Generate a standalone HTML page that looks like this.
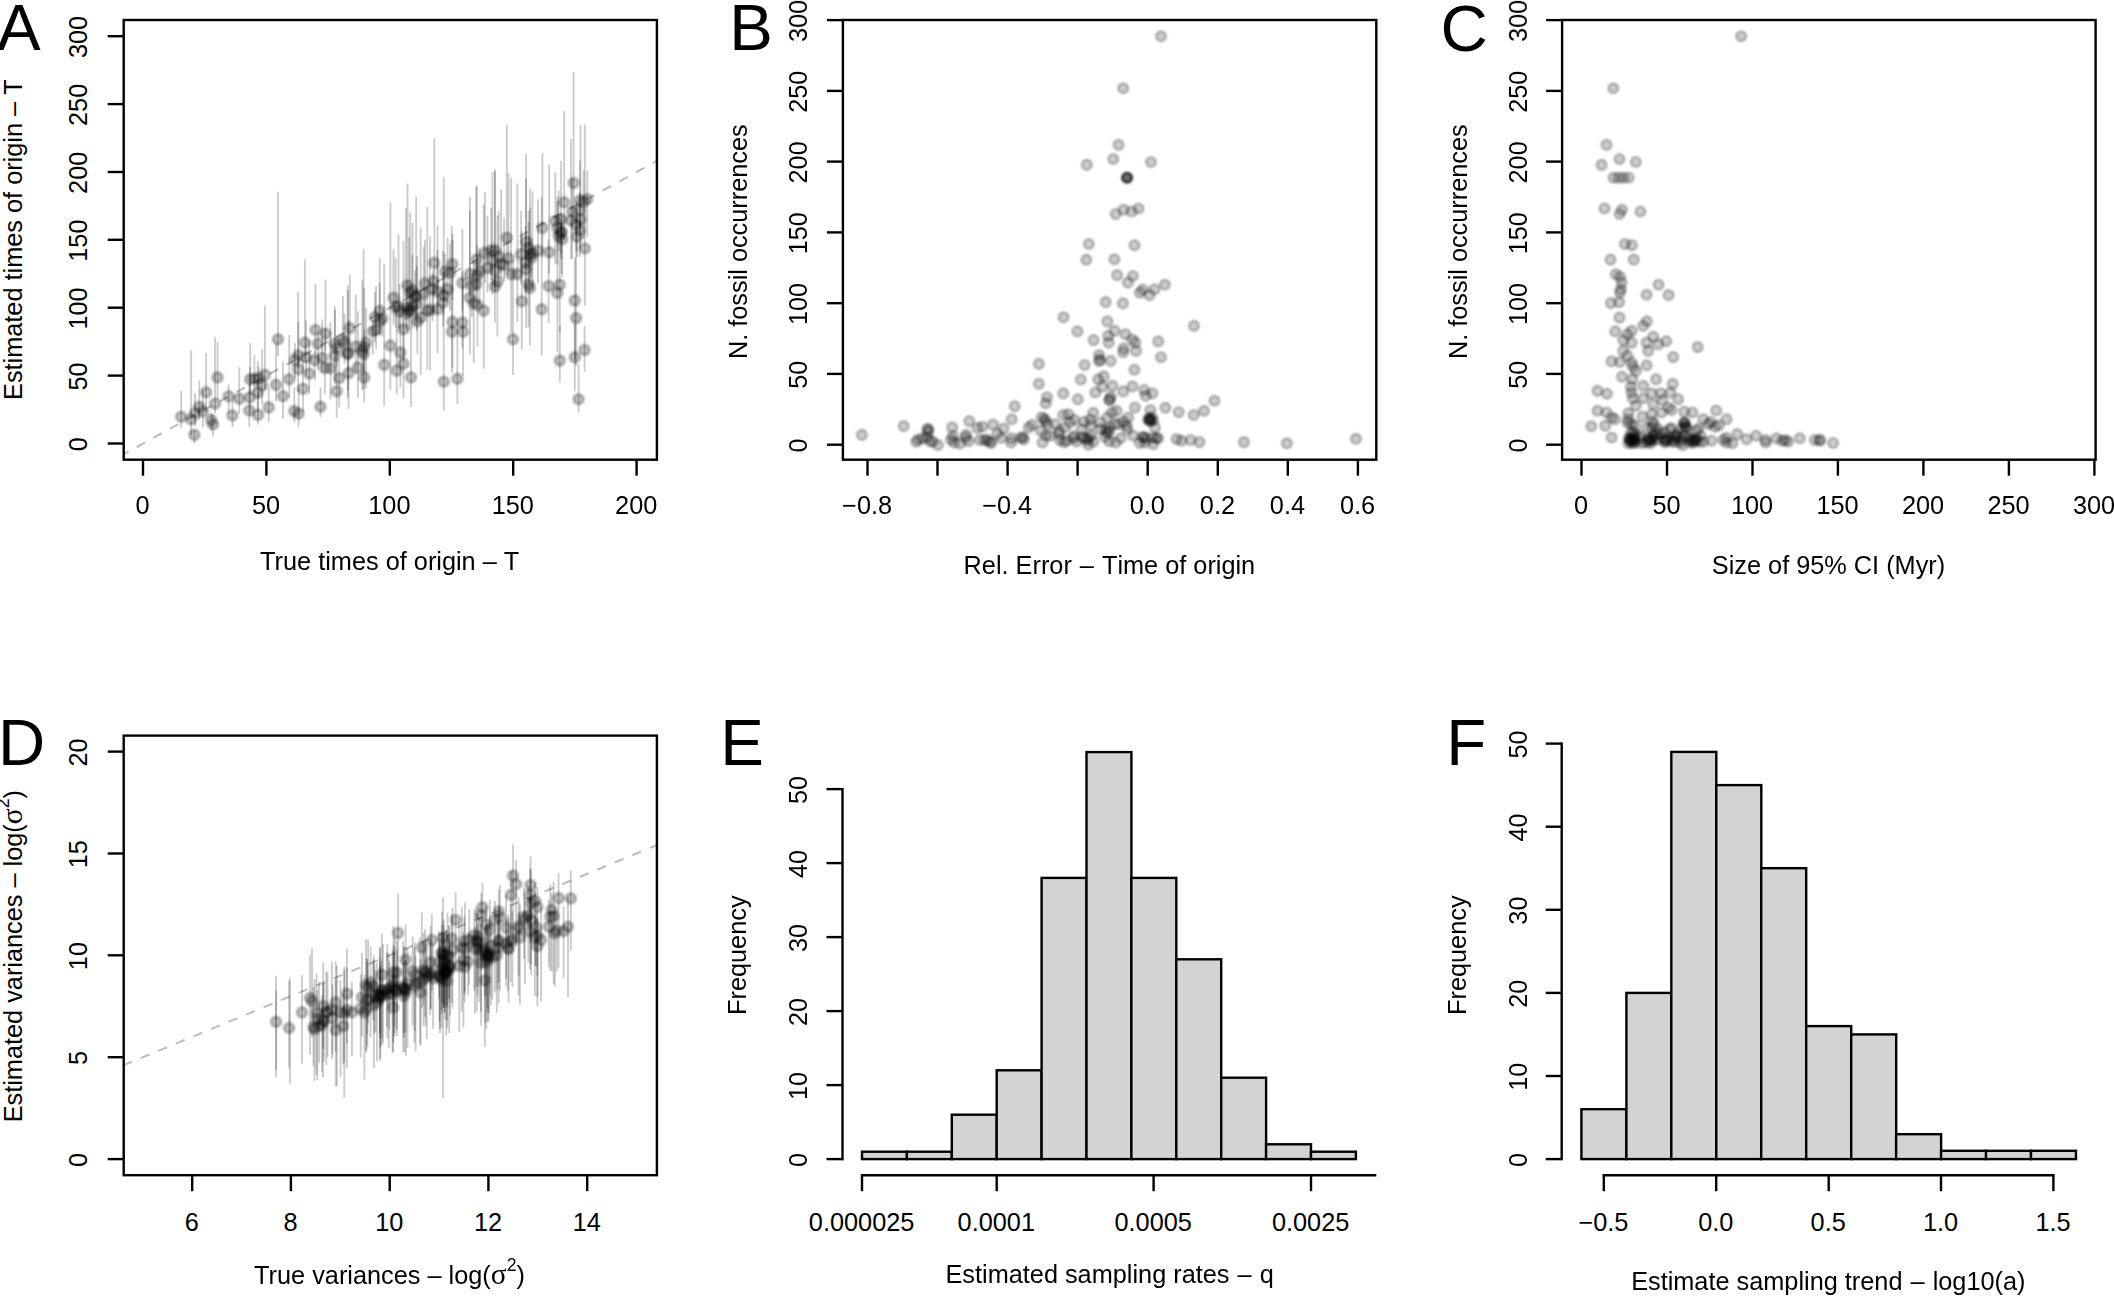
<!DOCTYPE html>
<html lang="en"><head><meta charset="utf-8"><title>Figure</title>
<style>html,body{margin:0;padding:0;background:#fff}body{width:2114px;height:1297px;overflow:hidden}svg{display:block}</style>
</head><body>
<svg width="2114" height="1297" viewBox="0 0 2114 1297" font-family='"Liberation Sans", Arial, Helvetica, sans-serif' font-size="25.3" fill="#000" style="font-kerning:none">
<defs><circle id="p" r="4.85" fill="#000" fill-opacity=".2" stroke="#000" stroke-opacity=".27" stroke-width="2.4"/><circle id="q" r="4.85" fill="#000" fill-opacity=".23" stroke="#000" stroke-opacity=".32" stroke-width="2.4"/><filter id="b" x="-5%" y="-5%" width="110%" height="110%"><feGaussianBlur stdDeviation="0.85"/></filter></defs>
<rect width="2114" height="1297" fill="#fff"/>
<g font-size="65.4">
<text x="-3" y="50">A</text>
<text x="729.2" y="50">B</text>
<text x="1440.6" y="50.6">C</text>
<text x="-2" y="765">D</text>
<text x="720.2" y="765.2">E</text>
<text x="1446.3" y="765.2">F</text>
</g>
<clipPath id="ca"><rect x="123.7" y="20.0" width="533.1999999999999" height="439.7"/></clipPath>
<g clip-path="url(#ca)">
<line x1="123.3" y1="454.4" x2="656.3" y2="161.1" stroke="#bebebe" stroke-width="2.1" stroke-dasharray="9.5 9.5" stroke-dashoffset="3.7"/>
<g stroke="#000" stroke-opacity=".2" stroke-width="1.9">
<line x1="181.2" y1="390.8" x2="181.2" y2="427.8"/>
<line x1="191.2" y1="349.8" x2="191.2" y2="435"/>
<line x1="194.4" y1="430.4" x2="194.4" y2="443.3"/>
<line x1="199.3" y1="380.4" x2="199.3" y2="420"/>
<line x1="195" y1="393.4" x2="195" y2="425.8"/>
<line x1="213.1" y1="414.4" x2="213.1" y2="436.5"/>
<line x1="211.2" y1="412.9" x2="211.2" y2="431"/>
<line x1="215" y1="337.3" x2="215" y2="413.2"/>
<line x1="217.5" y1="341.7" x2="217.5" y2="399.7"/>
<line x1="228.7" y1="384.8" x2="228.7" y2="414.1"/>
<line x1="232.4" y1="400.5" x2="232.4" y2="426.9"/>
<line x1="239.3" y1="367.3" x2="239.3" y2="413.8"/>
<line x1="249.9" y1="366.7" x2="249.9" y2="413.6"/>
<line x1="249.3" y1="383.4" x2="249.3" y2="427.1"/>
<line x1="258" y1="392" x2="258" y2="424.4"/>
<line x1="258.7" y1="366.3" x2="258.7" y2="398.6"/>
<line x1="264.9" y1="305.8" x2="264.9" y2="390"/>
<line x1="268.7" y1="387.5" x2="268.7" y2="422.1"/>
<line x1="276.1" y1="342.6" x2="276.1" y2="401.5"/>
<line x1="278" y1="191.7" x2="278" y2="356.1"/>
<line x1="283" y1="361.5" x2="283" y2="418.4"/>
<line x1="289.3" y1="335.1" x2="289.3" y2="397.7"/>
<line x1="294.9" y1="342.9" x2="294.9" y2="378.2"/>
<line x1="294.3" y1="387.4" x2="294.3" y2="422.2"/>
<line x1="298.6" y1="388.7" x2="298.6" y2="427.2"/>
<line x1="303" y1="359.5" x2="303" y2="412"/>
<line x1="304.9" y1="259.2" x2="304.9" y2="362.4"/>
<line x1="306.1" y1="319.6" x2="306.1" y2="375.9"/>
<line x1="309.2" y1="339.9" x2="309.2" y2="394"/>
<line x1="315.5" y1="284" x2="315.5" y2="354"/>
<line x1="318" y1="331.6" x2="318" y2="370.4"/>
<line x1="320.5" y1="387.4" x2="320.5" y2="417.1"/>
<line x1="325.5" y1="279.7" x2="325.5" y2="351.2"/>
<line x1="324.9" y1="328.1" x2="324.9" y2="393.8"/>
<line x1="330.5" y1="322.2" x2="330.5" y2="399.4"/>
<line x1="334.8" y1="310.3" x2="334.8" y2="362.5"/>
<line x1="336.7" y1="335.2" x2="336.7" y2="366.3"/>
<line x1="336.7" y1="347.1" x2="336.7" y2="418.1"/>
<line x1="339.2" y1="360.6" x2="339.2" y2="407.4"/>
<line x1="348" y1="290.1" x2="348" y2="390.5"/>
<line x1="348.6" y1="320.2" x2="348.6" y2="408.7"/>
<line x1="349.8" y1="274.7" x2="349.8" y2="355.3"/>
<line x1="357.9" y1="311.2" x2="357.9" y2="397.5"/>
<line x1="362.3" y1="279.5" x2="362.3" y2="390.7"/>
<line x1="363.6" y1="249.1" x2="363.6" y2="389"/>
<line x1="364.2" y1="330.1" x2="364.2" y2="402.4"/>
<line x1="366.1" y1="308.1" x2="366.1" y2="388.6"/>
<line x1="372.9" y1="320.2" x2="372.9" y2="354.4"/>
<line x1="376.1" y1="286" x2="376.1" y2="349.3"/>
<line x1="382.3" y1="308.6" x2="382.3" y2="336.4"/>
<line x1="384.2" y1="264.1" x2="384.2" y2="405.8"/>
<line x1="390.4" y1="202.3" x2="390.4" y2="390.3"/>
<line x1="396.7" y1="309.7" x2="396.7" y2="393.7"/>
<line x1="400.4" y1="314.5" x2="400.4" y2="387.3"/>
<line x1="403.5" y1="319.4" x2="403.5" y2="398.2"/>
<line x1="403.5" y1="240.8" x2="403.5" y2="360.5"/>
<line x1="411" y1="325.5" x2="411" y2="406.9"/>
<line x1="407.3" y1="281.2" x2="407.3" y2="331.4"/>
<line x1="410.4" y1="292.7" x2="410.4" y2="326.1"/>
<line x1="412.3" y1="254.7" x2="412.3" y2="328.8"/>
<line x1="406" y1="208.6" x2="406" y2="328.8"/>
<line x1="417.3" y1="256.3" x2="417.3" y2="354.1"/>
<line x1="427.3" y1="206.8" x2="427.3" y2="369.5"/>
<line x1="443.7" y1="176.7" x2="443.7" y2="410.9"/>
<line x1="457.4" y1="323.8" x2="457.4" y2="404.2"/>
<line x1="451.8" y1="225.4" x2="451.8" y2="372.8"/>
<line x1="463.1" y1="279.4" x2="463.1" y2="375.8"/>
<line x1="452.5" y1="240.1" x2="452.5" y2="368.4"/>
<line x1="462.4" y1="270.8" x2="462.4" y2="348.6"/>
<line x1="483.7" y1="204.2" x2="483.7" y2="368.8"/>
<line x1="473.7" y1="260.9" x2="473.7" y2="362.9"/>
<line x1="477.4" y1="255.3" x2="477.4" y2="346.7"/>
<line x1="513" y1="260.2" x2="513" y2="375"/>
<line x1="521.8" y1="231" x2="521.8" y2="349.7"/>
<line x1="541.7" y1="196.5" x2="541.7" y2="355.4"/>
<line x1="559.8" y1="325.9" x2="559.8" y2="382.6"/>
<line x1="576.1" y1="219.4" x2="576.1" y2="366.2"/>
<line x1="574.8" y1="257.3" x2="574.8" y2="359.7"/>
<line x1="574.8" y1="324.4" x2="574.8" y2="391.3"/>
<line x1="584.6" y1="325.9" x2="584.6" y2="371.6"/>
<line x1="578.6" y1="363.9" x2="578.6" y2="412.6"/>
<line x1="443.1" y1="251" x2="443.1" y2="326.8"/>
<line x1="430" y1="236.6" x2="430" y2="370.4"/>
<line x1="437.5" y1="225.2" x2="437.5" y2="353.3"/>
<line x1="573.6" y1="71.9" x2="573.6" y2="221.1"/>
<line x1="564.2" y1="110.7" x2="564.2" y2="240.2"/>
<line x1="579.8" y1="160.4" x2="579.8" y2="225"/>
<line x1="583.6" y1="170.2" x2="583.6" y2="238.7"/>
<line x1="587.3" y1="170.4" x2="587.3" y2="237"/>
<line x1="572.3" y1="178.3" x2="572.3" y2="258.6"/>
<line x1="579.8" y1="192.4" x2="579.8" y2="231.5"/>
<line x1="561.1" y1="161" x2="561.1" y2="259.1"/>
<line x1="571.1" y1="139.3" x2="571.1" y2="259.5"/>
<line x1="580.5" y1="125.1" x2="580.5" y2="248.3"/>
<line x1="542.4" y1="153.1" x2="542.4" y2="257.5"/>
<line x1="557.4" y1="196.4" x2="557.4" y2="264.6"/>
<line x1="561.1" y1="222.7" x2="561.1" y2="254"/>
<line x1="562.3" y1="214.2" x2="562.3" y2="277.3"/>
<line x1="579.8" y1="220.7" x2="579.8" y2="257.1"/>
<line x1="577.3" y1="213" x2="577.3" y2="256.8"/>
<line x1="584.8" y1="124.2" x2="584.8" y2="306"/>
<line x1="549.2" y1="164.2" x2="549.2" y2="274.1"/>
<line x1="506.8" y1="124.8" x2="506.8" y2="261.9"/>
<line x1="526.1" y1="178.7" x2="526.1" y2="268.8"/>
<line x1="528.6" y1="210.7" x2="528.6" y2="282"/>
<line x1="532.4" y1="191.2" x2="532.4" y2="290.3"/>
<line x1="521.1" y1="210.7" x2="521.1" y2="283.8"/>
<line x1="525.5" y1="226.2" x2="525.5" y2="292.9"/>
<line x1="526.1" y1="153.7" x2="526.1" y2="328.1"/>
<line x1="484.9" y1="192.2" x2="484.9" y2="282.7"/>
<line x1="494.9" y1="169" x2="494.9" y2="287.6"/>
<line x1="498.7" y1="211" x2="498.7" y2="283.3"/>
<line x1="492.4" y1="172.3" x2="492.4" y2="294.7"/>
<line x1="501.2" y1="189.5" x2="501.2" y2="277.9"/>
<line x1="487.4" y1="215.4" x2="487.4" y2="292.2"/>
<line x1="494.9" y1="261.4" x2="494.9" y2="292.1"/>
<line x1="497.4" y1="215.5" x2="497.4" y2="336.4"/>
<line x1="494.9" y1="171.2" x2="494.9" y2="322.6"/>
<line x1="511.1" y1="177.7" x2="511.1" y2="333.1"/>
<line x1="517.4" y1="183.6" x2="517.4" y2="321.8"/>
<line x1="528.6" y1="221.8" x2="528.6" y2="327.3"/>
<line x1="529.9" y1="188.3" x2="529.9" y2="345.7"/>
<line x1="548.6" y1="239.4" x2="548.6" y2="323"/>
<line x1="559.8" y1="240.6" x2="559.8" y2="332.4"/>
<line x1="557.4" y1="201" x2="557.4" y2="352.6"/>
<line x1="434.3" y1="138" x2="434.3" y2="294"/>
<line x1="452.5" y1="233.7" x2="452.5" y2="300.1"/>
<line x1="445" y1="253.4" x2="445" y2="301.6"/>
<line x1="450" y1="243.2" x2="450" y2="310.7"/>
<line x1="469.9" y1="210.4" x2="469.9" y2="297"/>
<line x1="477.4" y1="245.4" x2="477.4" y2="291.4"/>
<line x1="462.4" y1="228.8" x2="462.4" y2="310.8"/>
<line x1="476.2" y1="185.6" x2="476.2" y2="298"/>
<line x1="425" y1="239.8" x2="425" y2="306.8"/>
<line x1="407.5" y1="183.6" x2="407.5" y2="310.8"/>
<line x1="412.5" y1="222.9" x2="412.5" y2="312.5"/>
<line x1="415" y1="270.3" x2="415" y2="325.6"/>
<line x1="432.5" y1="273.6" x2="432.5" y2="321.1"/>
<line x1="437.5" y1="249.9" x2="437.5" y2="313.2"/>
<line x1="443.7" y1="271.9" x2="443.7" y2="315.2"/>
<line x1="447.5" y1="237.6" x2="447.5" y2="302.6"/>
<line x1="469.9" y1="196.8" x2="469.9" y2="354.6"/>
<line x1="393.5" y1="249.5" x2="393.5" y2="324.6"/>
<line x1="504.1" y1="217.8" x2="504.1" y2="281.1"/>
<line x1="416.7" y1="266.2" x2="416.7" y2="331"/>
<line x1="479.5" y1="248.4" x2="479.5" y2="305.3"/>
<line x1="314.8" y1="350.7" x2="314.8" y2="380.4"/>
<line x1="410.2" y1="212.2" x2="410.2" y2="307.4"/>
<line x1="409.1" y1="237.3" x2="409.1" y2="329.8"/>
<line x1="298.1" y1="291.9" x2="298.1" y2="391.4"/>
<line x1="399.4" y1="283.9" x2="399.4" y2="328.4"/>
<line x1="322.2" y1="319.5" x2="322.2" y2="373.2"/>
<line x1="355.7" y1="294.4" x2="355.7" y2="374.8"/>
<line x1="433.4" y1="269.7" x2="433.4" y2="312.2"/>
<line x1="344.5" y1="313.5" x2="344.5" y2="364"/>
<line x1="298.3" y1="321.8" x2="298.3" y2="368.7"/>
<line x1="398.5" y1="234.2" x2="398.5" y2="327.4"/>
<line x1="558.7" y1="190.6" x2="558.7" y2="251.5"/>
<line x1="476.8" y1="186.8" x2="476.8" y2="283"/>
<line x1="491.2" y1="207.4" x2="491.2" y2="279.8"/>
<line x1="262.1" y1="349.3" x2="262.1" y2="404"/>
<line x1="347.7" y1="285.3" x2="347.7" y2="398"/>
<line x1="250.2" y1="343.3" x2="250.2" y2="394.2"/>
<line x1="416.2" y1="196.7" x2="416.2" y2="316.3"/>
<line x1="206.1" y1="353.2" x2="206.1" y2="412.6"/>
<line x1="538" y1="199.6" x2="538" y2="283.3"/>
<line x1="202.8" y1="390" x2="202.8" y2="427.5"/>
<line x1="379.7" y1="257.7" x2="379.7" y2="334.6"/>
<line x1="423.7" y1="246.7" x2="423.7" y2="315.1"/>
<line x1="420.7" y1="227.2" x2="420.7" y2="375"/>
<line x1="561.5" y1="221.7" x2="561.5" y2="273.9"/>
<line x1="257.7" y1="360.9" x2="257.7" y2="411.8"/>
<line x1="471.9" y1="273.3" x2="471.9" y2="316.8"/>
<line x1="531.6" y1="237.7" x2="531.6" y2="277.8"/>
<line x1="555.3" y1="172.3" x2="555.3" y2="263.9"/>
<line x1="576.3" y1="201.6" x2="576.3" y2="251.5"/>
<line x1="334.9" y1="306.4" x2="334.9" y2="383.6"/>
<line x1="379.7" y1="283.1" x2="379.7" y2="334.8"/>
<line x1="508.5" y1="173.1" x2="508.5" y2="275.9"/>
<line x1="375" y1="292.1" x2="375" y2="342.2"/>
<line x1="254.4" y1="355.3" x2="254.4" y2="391.4"/>
<line x1="530.3" y1="207.4" x2="530.3" y2="277.9"/>
<line x1="342.9" y1="296.1" x2="342.9" y2="356.6"/>
<line x1="395.6" y1="257.6" x2="395.6" y2="328.1"/>
<line x1="364.2" y1="287.7" x2="364.2" y2="372.1"/>
</g>
<g filter="url(#b)">
<use href="#q" x="181.2" y="416.8"/>
<use href="#q" x="191.2" y="419.3"/>
<use href="#q" x="194.4" y="434.9"/>
<use href="#q" x="199.3" y="406.8"/>
<use href="#q" x="195" y="413"/>
<use href="#q" x="213.1" y="424.3"/>
<use href="#q" x="211.2" y="420.1"/>
<use href="#q" x="215" y="403.7"/>
<use href="#q" x="217.5" y="377.4"/>
<use href="#q" x="228.7" y="396.2"/>
<use href="#q" x="232.4" y="415.5"/>
<use href="#q" x="239.3" y="398.7"/>
<use href="#q" x="249.9" y="397.4"/>
<use href="#q" x="249.3" y="410.5"/>
<use href="#q" x="258" y="414.9"/>
<use href="#q" x="258.7" y="378.1"/>
<use href="#q" x="264.9" y="374.9"/>
<use href="#q" x="268.7" y="407.4"/>
<use href="#q" x="276.1" y="384.9"/>
<use href="#q" x="278" y="339.3"/>
<use href="#q" x="283" y="396.2"/>
<use href="#q" x="289.3" y="379.3"/>
<use href="#q" x="294.9" y="359.9"/>
<use href="#q" x="294.3" y="411.1"/>
<use href="#q" x="298.6" y="413.6"/>
<use href="#q" x="303" y="388.7"/>
<use href="#q" x="304.9" y="342.5"/>
<use href="#q" x="306.1" y="357.4"/>
<use href="#q" x="309.2" y="373.7"/>
<use href="#q" x="315.5" y="330"/>
<use href="#q" x="318" y="343.7"/>
<use href="#q" x="320.5" y="406.8"/>
<use href="#q" x="325.5" y="333.7"/>
<use href="#q" x="324.9" y="368.1"/>
<use href="#q" x="330.5" y="368.1"/>
<use href="#q" x="334.8" y="343.7"/>
<use href="#q" x="336.7" y="348.1"/>
<use href="#q" x="336.7" y="391.2"/>
<use href="#q" x="339.2" y="378.1"/>
<use href="#q" x="348" y="353.7"/>
<use href="#q" x="348.6" y="373.1"/>
<use href="#q" x="349.8" y="328.1"/>
<use href="#q" x="357.9" y="367.4"/>
<use href="#q" x="362.3" y="351.2"/>
<use href="#q" x="363.6" y="354.3"/>
<use href="#q" x="364.2" y="377.4"/>
<use href="#q" x="366.1" y="342.5"/>
<use href="#q" x="372.9" y="331.2"/>
<use href="#q" x="376.1" y="330"/>
<use href="#q" x="382.3" y="318.7"/>
<use href="#q" x="384.2" y="364.9"/>
<use href="#q" x="390.4" y="345.6"/>
<use href="#q" x="396.7" y="370.6"/>
<use href="#q" x="400.4" y="352.5"/>
<use href="#q" x="403.5" y="363.7"/>
<use href="#q" x="403.5" y="329.3"/>
<use href="#q" x="411" y="377.4"/>
<use href="#q" x="407.3" y="307.5"/>
<use href="#q" x="410.4" y="310.6"/>
<use href="#q" x="412.3" y="306.2"/>
<use href="#q" x="406" y="313.7"/>
<use href="#q" x="417.3" y="321.2"/>
<use href="#q" x="427.3" y="310.6"/>
<use href="#q" x="443.7" y="381.8"/>
<use href="#q" x="457.4" y="378.7"/>
<use href="#q" x="451.8" y="331.8"/>
<use href="#q" x="463.1" y="331.8"/>
<use href="#q" x="452.5" y="321.9"/>
<use href="#q" x="462.4" y="322.5"/>
<use href="#q" x="483.7" y="310.6"/>
<use href="#q" x="473.7" y="303.1"/>
<use href="#q" x="477.4" y="305"/>
<use href="#q" x="513" y="339.3"/>
<use href="#q" x="521.8" y="301.2"/>
<use href="#q" x="541.7" y="309.4"/>
<use href="#q" x="559.8" y="360.6"/>
<use href="#q" x="576.1" y="318.1"/>
<use href="#q" x="574.8" y="300.6"/>
<use href="#q" x="574.8" y="357.4"/>
<use href="#q" x="584.6" y="350"/>
<use href="#q" x="578.6" y="399.3"/>
<use href="#q" x="443.1" y="302.5"/>
<use href="#q" x="430" y="310"/>
<use href="#q" x="437.5" y="309.4"/>
<use href="#q" x="573.6" y="183"/>
<use href="#q" x="564.2" y="202.3"/>
<use href="#q" x="579.8" y="200.4"/>
<use href="#q" x="583.6" y="201.7"/>
<use href="#q" x="587.3" y="199.2"/>
<use href="#q" x="572.3" y="211.7"/>
<use href="#q" x="579.8" y="210.4"/>
<use href="#q" x="561.1" y="219.2"/>
<use href="#q" x="571.1" y="220.4"/>
<use href="#q" x="580.5" y="219.2"/>
<use href="#q" x="542.4" y="227.9"/>
<use href="#q" x="557.4" y="227.9"/>
<use href="#q" x="561.1" y="232.9"/>
<use href="#q" x="562.3" y="239.2"/>
<use href="#q" x="579.8" y="230.4"/>
<use href="#q" x="577.3" y="236.7"/>
<use href="#q" x="584.8" y="248.5"/>
<use href="#q" x="549.2" y="252.3"/>
<use href="#q" x="506.8" y="237.9"/>
<use href="#q" x="526.1" y="241.7"/>
<use href="#q" x="528.6" y="247.9"/>
<use href="#q" x="532.4" y="252.9"/>
<use href="#q" x="521.1" y="254.1"/>
<use href="#q" x="525.5" y="262.9"/>
<use href="#q" x="526.1" y="269.1"/>
<use href="#q" x="484.9" y="252.9"/>
<use href="#q" x="494.9" y="250.4"/>
<use href="#q" x="498.7" y="256.6"/>
<use href="#q" x="492.4" y="260.4"/>
<use href="#q" x="501.2" y="264.1"/>
<use href="#q" x="487.4" y="267.9"/>
<use href="#q" x="494.9" y="270.4"/>
<use href="#q" x="497.4" y="281.6"/>
<use href="#q" x="494.9" y="286.6"/>
<use href="#q" x="511.1" y="274.1"/>
<use href="#q" x="517.4" y="274.1"/>
<use href="#q" x="528.6" y="284.1"/>
<use href="#q" x="529.9" y="287.9"/>
<use href="#q" x="548.6" y="286"/>
<use href="#q" x="559.8" y="284.7"/>
<use href="#q" x="557.4" y="292.9"/>
<use href="#q" x="434.3" y="262.9"/>
<use href="#q" x="452.5" y="264.1"/>
<use href="#q" x="445" y="271.6"/>
<use href="#q" x="450" y="272.9"/>
<use href="#q" x="469.9" y="274.1"/>
<use href="#q" x="477.4" y="275.4"/>
<use href="#q" x="462.4" y="282.9"/>
<use href="#q" x="476.2" y="284.1"/>
<use href="#q" x="425" y="283.5"/>
<use href="#q" x="407.5" y="285.4"/>
<use href="#q" x="412.5" y="290.4"/>
<use href="#q" x="415" y="295.4"/>
<use href="#q" x="432.5" y="289.1"/>
<use href="#q" x="437.5" y="291.6"/>
<use href="#q" x="443.7" y="295.4"/>
<use href="#q" x="447.5" y="289.1"/>
<use href="#q" x="469.9" y="297.8"/>
<use href="#q" x="393.5" y="297.8"/>
<use href="#q" x="504.1" y="265.3"/>
<use href="#q" x="416.7" y="303.7"/>
<use href="#q" x="479.5" y="271.1"/>
<use href="#q" x="314.8" y="360.2"/>
<use href="#q" x="410.2" y="292.9"/>
<use href="#q" x="409.1" y="311.1"/>
<use href="#q" x="298.1" y="369.3"/>
<use href="#q" x="399.4" y="311.2"/>
<use href="#q" x="322.2" y="357.8"/>
<use href="#q" x="355.7" y="346.6"/>
<use href="#q" x="433.4" y="281.3"/>
<use href="#q" x="344.5" y="342.6"/>
<use href="#q" x="298.3" y="355.3"/>
<use href="#q" x="398.5" y="306.4"/>
<use href="#q" x="558.7" y="236.1"/>
<use href="#q" x="476.8" y="259.3"/>
<use href="#q" x="491.2" y="250.3"/>
<use href="#q" x="262.1" y="385.4"/>
<use href="#q" x="347.7" y="353.6"/>
<use href="#q" x="250.2" y="379.2"/>
<use href="#q" x="416.2" y="297"/>
<use href="#q" x="206.1" y="392.3"/>
<use href="#q" x="538" y="250.7"/>
<use href="#q" x="202.8" y="411.5"/>
<use href="#q" x="379.7" y="310.7"/>
<use href="#q" x="423.7" y="293.9"/>
<use href="#q" x="420.7" y="317.5"/>
<use href="#q" x="561.5" y="231.6"/>
<use href="#q" x="257.7" y="392.7"/>
<use href="#q" x="471.9" y="286.1"/>
<use href="#q" x="531.6" y="257.9"/>
<use href="#q" x="555.3" y="220.9"/>
<use href="#q" x="576.3" y="224.4"/>
<use href="#q" x="334.9" y="356"/>
<use href="#q" x="379.7" y="321.2"/>
<use href="#q" x="508.5" y="258.2"/>
<use href="#q" x="375" y="317.3"/>
<use href="#q" x="254.4" y="378.8"/>
<use href="#q" x="530.3" y="254.5"/>
<use href="#q" x="342.9" y="339.6"/>
<use href="#q" x="395.6" y="306.8"/>
<use href="#q" x="364.2" y="347.1"/>
</g></g>
<g filter="url(#b)">
<use href="#p" x="1161" y="36.3"/>
<use href="#p" x="1123.2" y="88.3"/>
<use href="#p" x="1118.6" y="144.9"/>
<use href="#p" x="1113.2" y="159"/>
<use href="#p" x="1151" y="162"/>
<use href="#p" x="1086.9" y="164.9"/>
<use href="#p" x="1127.1" y="177.7"/>
<use href="#p" x="1127.2" y="177.6"/>
<use href="#p" x="1127.2" y="177.7"/>
<use href="#p" x="1126.9" y="177.7"/>
<use href="#p" x="1115.7" y="214"/>
<use href="#p" x="1123.6" y="209.8"/>
<use href="#p" x="1131.6" y="211.5"/>
<use href="#p" x="1138.5" y="208.5"/>
<use href="#p" x="1088.8" y="244"/>
<use href="#p" x="1134.5" y="245.2"/>
<use href="#p" x="1086.3" y="259.8"/>
<use href="#p" x="1114.4" y="259.3"/>
<use href="#p" x="1117.1" y="275.1"/>
<use href="#p" x="1132.9" y="276"/>
<use href="#p" x="1127.9" y="282.6"/>
<use href="#p" x="1164.9" y="284.8"/>
<use href="#p" x="1154.5" y="289.3"/>
<use href="#p" x="1139.9" y="292.6"/>
<use href="#p" x="1142.9" y="289.5"/>
<use href="#p" x="1149.5" y="295.1"/>
<use href="#p" x="1105.7" y="302.1"/>
<use href="#p" x="1122.9" y="303.4"/>
<use href="#p" x="1063.6" y="317.3"/>
<use href="#p" x="1107.4" y="321.4"/>
<use href="#p" x="1077.4" y="331.4"/>
<use href="#p" x="1114.6" y="330.9"/>
<use href="#p" x="1125.4" y="334.2"/>
<use href="#p" x="1194" y="325.9"/>
<use href="#p" x="1093.6" y="340.1"/>
<use href="#p" x="1108.2" y="335.9"/>
<use href="#p" x="1108.7" y="342.6"/>
<use href="#p" x="1135.4" y="342.6"/>
<use href="#p" x="1132.3" y="339.5"/>
<use href="#p" x="1136" y="350.9"/>
<use href="#p" x="1158.2" y="341.4"/>
<use href="#p" x="1123.7" y="348.4"/>
<use href="#p" x="1123.2" y="352.1"/>
<use href="#p" x="1161" y="357.2"/>
<use href="#p" x="1099.1" y="355.1"/>
<use href="#p" x="1099.1" y="360.9"/>
<use href="#p" x="1100.1" y="359.9"/>
<use href="#p" x="1110.7" y="360.9"/>
<use href="#p" x="1084.6" y="365"/>
<use href="#p" x="1038.8" y="363.9"/>
<use href="#p" x="1134.4" y="369.7"/>
<use href="#p" x="1080.8" y="379.5"/>
<use href="#p" x="1103.7" y="376.4"/>
<use href="#p" x="1098.2" y="379.2"/>
<use href="#p" x="1102.4" y="386.7"/>
<use href="#p" x="1038.8" y="383.9"/>
<use href="#p" x="1112.4" y="385.9"/>
<use href="#p" x="1132.4" y="386.4"/>
<use href="#p" x="1123.2" y="391.4"/>
<use href="#p" x="1144" y="390"/>
<use href="#p" x="1152.4" y="393.4"/>
<use href="#p" x="1145.7" y="395.8"/>
<use href="#p" x="1095.4" y="392.5"/>
<use href="#p" x="1063.3" y="393.4"/>
<use href="#p" x="1110.7" y="396.7"/>
<use href="#p" x="1109.1" y="399.9"/>
<use href="#p" x="1109.9" y="400"/>
<use href="#p" x="1047" y="397.2"/>
<use href="#p" x="1045.8" y="403.3"/>
<use href="#p" x="1077.9" y="399.2"/>
<use href="#p" x="1214.5" y="400.8"/>
<use href="#p" x="1014.7" y="406.2"/>
<use href="#p" x="1165.4" y="407.8"/>
<use href="#p" x="1178.7" y="412.2"/>
<use href="#p" x="1204" y="410.8"/>
<use href="#p" x="1193.7" y="415"/>
<use href="#p" x="1134.9" y="407.5"/>
<use href="#p" x="1150.4" y="410"/>
<use href="#p" x="1116.6" y="410.8"/>
<use href="#p" x="1112" y="412.6"/>
<use href="#p" x="1093.3" y="412.8"/>
<use href="#p" x="1063.3" y="415"/>
<use href="#p" x="1068.3" y="414.2"/>
<use href="#p" x="1149.5" y="419.2"/>
<use href="#p" x="1150.5" y="420.9"/>
<use href="#p" x="1148.5" y="420.1"/>
<use href="#p" x="1150" y="420.4"/>
<use href="#p" x="1151.8" y="417.3"/>
<use href="#p" x="1153.2" y="420.5"/>
<use href="#p" x="1011.7" y="419.2"/>
<use href="#p" x="1028.8" y="427.5"/>
<use href="#p" x="1032.1" y="424.7"/>
<use href="#p" x="1020.8" y="437.5"/>
<use href="#p" x="1023" y="437.2"/>
<use href="#p" x="1023.6" y="439.5"/>
<use href="#p" x="1011.7" y="438.3"/>
<use href="#p" x="1042.5" y="442.5"/>
<use href="#p" x="1040.8" y="430.8"/>
<use href="#p" x="1050" y="435.8"/>
<use href="#p" x="1047.5" y="424.2"/>
<use href="#p" x="1055" y="424.2"/>
<use href="#p" x="1060" y="440"/>
<use href="#p" x="1064.1" y="442.2"/>
<use href="#p" x="1064.9" y="427.5"/>
<use href="#p" x="1069.9" y="422.5"/>
<use href="#p" x="1066.6" y="440.8"/>
<use href="#p" x="1076.6" y="441.6"/>
<use href="#p" x="1081.6" y="429.2"/>
<use href="#p" x="1084.1" y="421.7"/>
<use href="#p" x="1088.3" y="438.3"/>
<use href="#p" x="1084.6" y="438.3"/>
<use href="#p" x="1093.3" y="441.6"/>
<use href="#p" x="1088.3" y="444.7"/>
<use href="#p" x="1099.9" y="422.5"/>
<use href="#p" x="1107.4" y="417.5"/>
<use href="#p" x="1109.1" y="431.6"/>
<use href="#p" x="1107.1" y="433"/>
<use href="#p" x="1105.6" y="429.8"/>
<use href="#p" x="1114.9" y="424.2"/>
<use href="#p" x="1118.5" y="423.9"/>
<use href="#p" x="1115.7" y="442.5"/>
<use href="#p" x="1120.7" y="438.3"/>
<use href="#p" x="1126.6" y="425.8"/>
<use href="#p" x="1128.2" y="417.5"/>
<use href="#p" x="1133.2" y="435.8"/>
<use href="#p" x="1143.2" y="437.5"/>
<use href="#p" x="1146" y="438.1"/>
<use href="#p" x="1143.3" y="436.7"/>
<use href="#p" x="1144.9" y="442.5"/>
<use href="#p" x="1156.5" y="438.3"/>
<use href="#p" x="1153.1" y="437.7"/>
<use href="#p" x="1158" y="438.2"/>
<use href="#p" x="1153.2" y="444.1"/>
<use href="#p" x="1154.9" y="427.5"/>
<use href="#p" x="1176.5" y="439.1"/>
<use href="#p" x="1181.5" y="440.8"/>
<use href="#p" x="1190.7" y="440"/>
<use href="#p" x="1199.5" y="442.1"/>
<use href="#p" x="1243.9" y="442.1"/>
<use href="#p" x="1286.9" y="443.3"/>
<use href="#p" x="1356" y="438.8"/>
<use href="#p" x="861.9" y="434.9"/>
<use href="#p" x="903.7" y="426.1"/>
<use href="#p" x="928.1" y="431.7"/>
<use href="#p" x="928.5" y="429.4"/>
<use href="#p" x="927.3" y="429"/>
<use href="#p" x="922.4" y="438.6"/>
<use href="#p" x="918.2" y="439.5"/>
<use href="#p" x="916.2" y="441.7"/>
<use href="#p" x="933" y="441.7"/>
<use href="#p" x="930.1" y="441.2"/>
<use href="#p" x="937.9" y="445"/>
<use href="#p" x="927.4" y="437.4"/>
<use href="#p" x="952.2" y="427.4"/>
<use href="#p" x="953" y="436.1"/>
<use href="#p" x="954.3" y="442.4"/>
<use href="#p" x="951" y="439.8"/>
<use href="#p" x="959.9" y="443.6"/>
<use href="#p" x="969.3" y="421.1"/>
<use href="#p" x="966.1" y="434.9"/>
<use href="#p" x="965.7" y="437.6"/>
<use href="#p" x="968.6" y="441.1"/>
<use href="#p" x="977.4" y="428"/>
<use href="#p" x="982.4" y="426.7"/>
<use href="#p" x="979.9" y="439.9"/>
<use href="#p" x="993" y="424.6"/>
<use href="#p" x="987.4" y="439.9"/>
<use href="#p" x="984.7" y="440.1"/>
<use href="#p" x="990.1" y="441.7"/>
<use href="#p" x="991.1" y="443"/>
<use href="#p" x="1003.6" y="428.6"/>
<use href="#p" x="1001.1" y="438"/>
<use href="#p" x="997.4" y="433.6"/>
<use href="#p" x="1011.1" y="442.4"/>
<use href="#p" x="1148.7" y="418.2"/>
<use href="#p" x="1109.3" y="441.2"/>
<use href="#p" x="1041.8" y="417.3"/>
<use href="#p" x="1109.4" y="427.7"/>
<use href="#p" x="1123.6" y="421.6"/>
<use href="#p" x="1091.1" y="435.6"/>
<use href="#p" x="1074.2" y="419.7"/>
<use href="#p" x="1044.9" y="421.1"/>
<use href="#p" x="1058.8" y="434"/>
<use href="#p" x="1100.5" y="429.1"/>
<use href="#p" x="1073.9" y="436"/>
<use href="#p" x="1139.8" y="442.9"/>
<use href="#p" x="1090.2" y="419.6"/>
<use href="#p" x="1044.7" y="418.8"/>
<use href="#p" x="1087.4" y="440.2"/>
<use href="#p" x="1105.1" y="436.9"/>
<use href="#p" x="1082.4" y="437.1"/>
<use href="#p" x="1073.5" y="438.1"/>
<use href="#p" x="1045.9" y="435.5"/>
<use href="#p" x="1059.4" y="431.1"/>
<use href="#p" x="1090.7" y="425.3"/>
<use href="#p" x="1127.1" y="429.3"/>
</g>
<g filter="url(#b)">
<use href="#p" x="1741.2" y="36.3"/>
<use href="#p" x="1613.3" y="88.3"/>
<use href="#p" x="1606.6" y="144.9"/>
<use href="#p" x="1619.5" y="159"/>
<use href="#p" x="1635.8" y="162"/>
<use href="#p" x="1601.6" y="164.9"/>
<use href="#p" x="1613.6" y="177.7"/>
<use href="#p" x="1618.6" y="177.7"/>
<use href="#p" x="1623.3" y="177.7"/>
<use href="#p" x="1628.6" y="177.7"/>
<use href="#p" x="1604.5" y="208.5"/>
<use href="#p" x="1622" y="209.8"/>
<use href="#p" x="1619.6" y="214"/>
<use href="#p" x="1640.4" y="211.5"/>
<use href="#p" x="1624.9" y="244"/>
<use href="#p" x="1631.9" y="245.2"/>
<use href="#p" x="1610.5" y="259.6"/>
<use href="#p" x="1633.8" y="259.6"/>
<use href="#p" x="1615.8" y="274.3"/>
<use href="#p" x="1620" y="276.8"/>
<use href="#p" x="1621.6" y="282.6"/>
<use href="#p" x="1620.8" y="289.3"/>
<use href="#p" x="1620" y="292.6"/>
<use href="#p" x="1658.6" y="284.8"/>
<use href="#p" x="1646.6" y="294.8"/>
<use href="#p" x="1668.6" y="295.1"/>
<use href="#p" x="1610.8" y="303.1"/>
<use href="#p" x="1619.1" y="302.3"/>
<use href="#p" x="1619.5" y="317.6"/>
<use href="#p" x="1646.9" y="321.3"/>
<use href="#p" x="1643.3" y="325.9"/>
<use href="#p" x="1615.3" y="331.4"/>
<use href="#p" x="1631.6" y="330.9"/>
<use href="#p" x="1627.4" y="334.2"/>
<use href="#p" x="1623.3" y="340.1"/>
<use href="#p" x="1631.6" y="342.6"/>
<use href="#p" x="1653.3" y="336.7"/>
<use href="#p" x="1646.6" y="342.6"/>
<use href="#p" x="1658.2" y="344.2"/>
<use href="#p" x="1666.2" y="341.2"/>
<use href="#p" x="1697.7" y="347.1"/>
<use href="#p" x="1623.3" y="350.9"/>
<use href="#p" x="1627.4" y="355.9"/>
<use href="#p" x="1648.3" y="350.9"/>
<use href="#p" x="1673.2" y="357.1"/>
<use href="#p" x="1611.6" y="361.4"/>
<use href="#p" x="1620" y="362"/>
<use href="#p" x="1631.6" y="362.5"/>
<use href="#p" x="1632.9" y="366.7"/>
<use href="#p" x="1646.6" y="365.4"/>
<use href="#p" x="1622" y="376.7"/>
<use href="#p" x="1635.8" y="370.9"/>
<use href="#p" x="1632.4" y="379.2"/>
<use href="#p" x="1656.1" y="379.2"/>
<use href="#p" x="1672.7" y="383.9"/>
<use href="#p" x="1630.8" y="386.7"/>
<use href="#p" x="1643.3" y="385.9"/>
<use href="#p" x="1631.6" y="392.5"/>
<use href="#p" x="1597.5" y="390.9"/>
<use href="#p" x="1607" y="393.7"/>
<use href="#p" x="1651.6" y="393.4"/>
<use href="#p" x="1660.7" y="393.4"/>
<use href="#p" x="1670.4" y="392.5"/>
<use href="#p" x="1632.9" y="398.3"/>
<use href="#p" x="1643.3" y="398.3"/>
<use href="#p" x="1662.4" y="400"/>
<use href="#p" x="1678.2" y="399.2"/>
<use href="#p" x="1635.8" y="405.8"/>
<use href="#p" x="1653.3" y="404.2"/>
<use href="#p" x="1668.2" y="407.5"/>
<use href="#p" x="1671.6" y="410"/>
<use href="#p" x="1597.5" y="410.8"/>
<use href="#p" x="1606.6" y="412.5"/>
<use href="#p" x="1628.3" y="413.3"/>
<use href="#p" x="1651.6" y="414.2"/>
<use href="#p" x="1661.6" y="412.5"/>
<use href="#p" x="1684.1" y="411.7"/>
<use href="#p" x="1692.4" y="412.5"/>
<use href="#p" x="1716.2" y="410.5"/>
<use href="#p" x="1611.6" y="417.5"/>
<use href="#p" x="1615" y="419.2"/>
<use href="#p" x="1642.4" y="416.7"/>
<use href="#p" x="1628.3" y="419.2"/>
<use href="#p" x="1726.5" y="419.2"/>
<use href="#p" x="1591.3" y="426.3"/>
<use href="#p" x="1605.3" y="425.8"/>
<use href="#p" x="1627.4" y="422.5"/>
<use href="#p" x="1651.6" y="427.5"/>
<use href="#p" x="1647" y="427.9"/>
<use href="#p" x="1654.2" y="424.7"/>
<use href="#p" x="1653.3" y="435.8"/>
<use href="#p" x="1656.6" y="433.5"/>
<use href="#p" x="1654.2" y="436.1"/>
<use href="#p" x="1669.9" y="429.2"/>
<use href="#p" x="1671.2" y="428"/>
<use href="#p" x="1684.9" y="422.5"/>
<use href="#p" x="1684.1" y="423"/>
<use href="#p" x="1684.1" y="423.4"/>
<use href="#p" x="1686.6" y="427.5"/>
<use href="#p" x="1686" y="427.1"/>
<use href="#p" x="1681.8" y="428.2"/>
<use href="#p" x="1676.6" y="435.8"/>
<use href="#p" x="1676.5" y="434.2"/>
<use href="#p" x="1679.2" y="437.5"/>
<use href="#p" x="1634.1" y="440"/>
<use href="#p" x="1633.7" y="438.1"/>
<use href="#p" x="1633.8" y="437.6"/>
<use href="#p" x="1630.4" y="439.6"/>
<use href="#p" x="1630" y="439.6"/>
<use href="#p" x="1648.3" y="441.6"/>
<use href="#p" x="1648.4" y="438.9"/>
<use href="#p" x="1649.6" y="439.1"/>
<use href="#p" x="1650.6" y="443.3"/>
<use href="#p" x="1664.9" y="440.8"/>
<use href="#p" x="1665" y="438.1"/>
<use href="#p" x="1664.9" y="440.1"/>
<use href="#p" x="1669.4" y="438.6"/>
<use href="#p" x="1689.9" y="438.3"/>
<use href="#p" x="1693.5" y="441.3"/>
<use href="#p" x="1692.2" y="440.2"/>
<use href="#p" x="1696.5" y="440"/>
<use href="#p" x="1693.5" y="442.9"/>
<use href="#p" x="1639.9" y="435.8"/>
<use href="#p" x="1639.9" y="438.6"/>
<use href="#p" x="1659.9" y="434.1"/>
<use href="#p" x="1664.1" y="432.1"/>
<use href="#p" x="1679.9" y="442.5"/>
<use href="#p" x="1682.8" y="445.1"/>
<use href="#p" x="1671.6" y="441.6"/>
<use href="#p" x="1667.2" y="440.7"/>
<use href="#p" x="1703.2" y="419.2"/>
<use href="#p" x="1708.2" y="424.2"/>
<use href="#p" x="1710.8" y="422.1"/>
<use href="#p" x="1714.9" y="426.7"/>
<use href="#p" x="1718.8" y="425.3"/>
<use href="#p" x="1611.6" y="437.5"/>
<use href="#p" x="1630.8" y="433.3"/>
<use href="#p" x="1628.3" y="443.3"/>
<use href="#p" x="1703.2" y="441.6"/>
<use href="#p" x="1711.5" y="440.8"/>
<use href="#p" x="1723.2" y="440"/>
<use href="#p" x="1726.3" y="437.8"/>
<use href="#p" x="1726.5" y="442.5"/>
<use href="#p" x="1732.3" y="443.3"/>
<use href="#p" x="1737.3" y="434.1"/>
<use href="#p" x="1746.5" y="439.1"/>
<use href="#p" x="1756.2" y="435.8"/>
<use href="#p" x="1765.6" y="440"/>
<use href="#p" x="1765.7" y="442.5"/>
<use href="#p" x="1776.5" y="438.3"/>
<use href="#p" x="1782.3" y="440.8"/>
<use href="#p" x="1788.1" y="441.6"/>
<use href="#p" x="1785.2" y="440.2"/>
<use href="#p" x="1799.8" y="438.3"/>
<use href="#p" x="1814.8" y="440"/>
<use href="#p" x="1819.8" y="440.8"/>
<use href="#p" x="1819.8" y="439.7"/>
<use href="#p" x="1833.1" y="443"/>
<use href="#p" x="1685.2" y="426.8"/>
<use href="#p" x="1682.1" y="439.6"/>
<use href="#p" x="1641.2" y="443.1"/>
<use href="#p" x="1651.6" y="439.4"/>
<use href="#p" x="1665" y="442.4"/>
<use href="#p" x="1635" y="434.5"/>
<use href="#p" x="1689.7" y="442.2"/>
<use href="#p" x="1631.2" y="442.7"/>
<use href="#p" x="1696.4" y="430.9"/>
<use href="#p" x="1684.9" y="436.3"/>
<use href="#p" x="1635.3" y="425.7"/>
<use href="#p" x="1652.6" y="421.8"/>
<use href="#p" x="1630.3" y="439.1"/>
<use href="#p" x="1657.8" y="429.2"/>
<use href="#p" x="1633.2" y="431.7"/>
<use href="#p" x="1635" y="442.3"/>
<use href="#p" x="1674.8" y="436.5"/>
<use href="#p" x="1700.7" y="435.8"/>
<use href="#p" x="1698.1" y="428.9"/>
<use href="#p" x="1628.8" y="438.1"/>
<use href="#p" x="1675.2" y="442"/>
<use href="#p" x="1694.3" y="440.2"/>
<use href="#p" x="1657.5" y="439.4"/>
<use href="#p" x="1631.3" y="424"/>
<use href="#p" x="1634" y="440"/>
<use href="#p" x="1653.2" y="440.1"/>
<use href="#p" x="1696" y="439"/>
<use href="#p" x="1649.8" y="439.8"/>
<use href="#p" x="1699.7" y="441.6"/>
<use href="#p" x="1633.8" y="443.3"/>
<use href="#p" x="1674.9" y="439.2"/>
<use href="#p" x="1688.9" y="438"/>
<use href="#p" x="1630.5" y="440.8"/>
<use href="#p" x="1645.8" y="442.4"/>
</g>
<clipPath id="cd"><rect x="123.7" y="735.6" width="533.1999999999999" height="439.6"/></clipPath>
<g clip-path="url(#cd)">
<line x1="123.1" y1="1065.4" x2="656.3" y2="845.3" stroke="#bebebe" stroke-width="2.1" stroke-dasharray="9.5 9.5"/>
<g stroke="#000" stroke-opacity=".2" stroke-width="1.9">
<line x1="276.1" y1="990.4" x2="276.1" y2="1070"/>
<line x1="289.1" y1="980.7" x2="289.1" y2="1067.8"/>
<line x1="302" y1="975.2" x2="302" y2="1063.5"/>
<line x1="310.1" y1="955.4" x2="310.1" y2="1054.5"/>
<line x1="312" y1="948.8" x2="312" y2="1036.9"/>
<line x1="314.5" y1="978.9" x2="314.5" y2="1080.9"/>
<line x1="323.2" y1="962.8" x2="323.2" y2="1049"/>
<line x1="323.8" y1="982.2" x2="323.8" y2="1061.7"/>
<line x1="317.3" y1="990" x2="317.3" y2="1080.3"/>
<line x1="319.1" y1="981.9" x2="319.1" y2="1062.8"/>
<line x1="321.9" y1="995.3" x2="321.9" y2="1072"/>
<line x1="331.9" y1="961.5" x2="331.9" y2="1058.9"/>
<line x1="335.7" y1="961.2" x2="335.7" y2="1051.8"/>
<line x1="335.7" y1="979.4" x2="335.7" y2="1086.7"/>
<line x1="343.2" y1="993.1" x2="343.2" y2="1064.4"/>
<line x1="346.9" y1="967.5" x2="346.9" y2="1067.9"/>
<line x1="351.9" y1="981.7" x2="351.9" y2="1056.1"/>
<line x1="346.9" y1="948.7" x2="346.9" y2="1043.5"/>
<line x1="360.7" y1="974.3" x2="360.7" y2="1057.4"/>
<line x1="364.4" y1="974.6" x2="364.4" y2="1079.6"/>
<line x1="361.9" y1="953" x2="361.9" y2="1036.3"/>
<line x1="370.6" y1="946.4" x2="370.6" y2="1037.4"/>
<line x1="373.2" y1="959.3" x2="373.2" y2="1020.6"/>
<line x1="366" y1="939.3" x2="366" y2="1052.5"/>
<line x1="368.1" y1="939.5" x2="368.1" y2="1023.3"/>
<line x1="376.9" y1="963.1" x2="376.9" y2="1061.2"/>
<line x1="374.4" y1="963.3" x2="374.4" y2="1033.7"/>
<line x1="386.9" y1="952.4" x2="386.9" y2="1026.9"/>
<line x1="381.5" y1="961.2" x2="381.5" y2="1045.6"/>
<line x1="388.8" y1="953" x2="388.8" y2="1048.1"/>
<line x1="381.9" y1="933.8" x2="381.9" y2="1039.1"/>
<line x1="393.1" y1="973.4" x2="393.1" y2="1051.8"/>
<line x1="389.4" y1="961.8" x2="389.4" y2="1029.3"/>
<line x1="394.4" y1="947" x2="394.4" y2="1026.1"/>
<line x1="398.1" y1="893.5" x2="398.1" y2="977.3"/>
<line x1="403.1" y1="940.9" x2="403.1" y2="1052"/>
<line x1="405.6" y1="960.2" x2="405.6" y2="1032.5"/>
<line x1="405.6" y1="924.5" x2="405.6" y2="996.9"/>
<line x1="396.9" y1="940.9" x2="396.9" y2="1029.7"/>
<line x1="414.4" y1="947.6" x2="414.4" y2="1043.2"/>
<line x1="415.6" y1="956" x2="415.6" y2="1051.6"/>
<line x1="420.6" y1="959" x2="420.6" y2="1045.3"/>
<line x1="425.6" y1="938.9" x2="425.6" y2="1026.1"/>
<line x1="430.8" y1="939.6" x2="430.8" y2="1009.6"/>
<line x1="426.7" y1="950.8" x2="426.7" y2="1039"/>
<line x1="421.8" y1="912.4" x2="421.8" y2="1008.1"/>
<line x1="431.8" y1="914.2" x2="431.8" y2="990.9"/>
<line x1="430.6" y1="925.8" x2="430.6" y2="1008.8"/>
<line x1="441.8" y1="924.7" x2="441.8" y2="1009.8"/>
<line x1="443.1" y1="897.6" x2="443.1" y2="1002.2"/>
<line x1="445.6" y1="946.1" x2="445.6" y2="1006.5"/>
<line x1="440" y1="938.7" x2="440" y2="1032.9"/>
<line x1="447.4" y1="943" x2="447.4" y2="1028.3"/>
<line x1="441.8" y1="936" x2="441.8" y2="1028"/>
<line x1="449.3" y1="939.5" x2="449.3" y2="1032.9"/>
<line x1="451.8" y1="914" x2="451.8" y2="1003.3"/>
<line x1="455.6" y1="892.4" x2="455.6" y2="963.9"/>
<line x1="461.8" y1="907.1" x2="461.8" y2="1011.7"/>
<line x1="468.1" y1="932.6" x2="468.1" y2="995"/>
<line x1="464.3" y1="916.3" x2="464.3" y2="994.6"/>
<line x1="476.8" y1="914.3" x2="476.8" y2="1011.4"/>
<line x1="474.3" y1="909.5" x2="474.3" y2="990.8"/>
<line x1="513" y1="844.2" x2="513" y2="940.6"/>
<line x1="516.1" y1="860.3" x2="516.1" y2="946.5"/>
<line x1="511.1" y1="871.2" x2="511.1" y2="934.1"/>
<line x1="530.5" y1="856.2" x2="530.5" y2="943.4"/>
<line x1="531.1" y1="869.2" x2="531.1" y2="964.5"/>
<line x1="535.3" y1="882.2" x2="535.3" y2="966.2"/>
<line x1="529.9" y1="868.6" x2="529.9" y2="934.7"/>
<line x1="558.6" y1="873.1" x2="558.6" y2="967.6"/>
<line x1="570.8" y1="870.6" x2="570.8" y2="950.8"/>
<line x1="551.7" y1="893.5" x2="551.7" y2="971.2"/>
<line x1="553.6" y1="881.8" x2="553.6" y2="984.3"/>
<line x1="556.7" y1="910.2" x2="556.7" y2="971.7"/>
<line x1="563.6" y1="906.4" x2="563.6" y2="978.1"/>
<line x1="554.8" y1="906.5" x2="554.8" y2="986.4"/>
<line x1="568" y1="896.8" x2="568" y2="997.3"/>
<line x1="524.9" y1="896.9" x2="524.9" y2="984"/>
<line x1="524.1" y1="887.7" x2="524.1" y2="958.7"/>
<line x1="528.3" y1="885.2" x2="528.3" y2="962.8"/>
<line x1="531.1" y1="893.4" x2="531.1" y2="974.9"/>
<line x1="518.6" y1="897.6" x2="518.6" y2="995.5"/>
<line x1="529.9" y1="898.1" x2="529.9" y2="969.8"/>
<line x1="536.1" y1="910.5" x2="536.1" y2="966.3"/>
<line x1="541.1" y1="907.4" x2="541.1" y2="1001.8"/>
<line x1="537.4" y1="918.5" x2="537.4" y2="997.1"/>
<line x1="534.9" y1="915.4" x2="534.9" y2="996.1"/>
<line x1="519.9" y1="903.5" x2="519.9" y2="1004.7"/>
<line x1="512.4" y1="911.2" x2="512.4" y2="986.9"/>
<line x1="498.7" y1="906.2" x2="498.7" y2="1003.3"/>
<line x1="506.1" y1="918.7" x2="506.1" y2="986.4"/>
<line x1="510.6" y1="907.2" x2="510.6" y2="982.1"/>
<line x1="508.1" y1="914.7" x2="508.1" y2="991.2"/>
<line x1="508.6" y1="917.6" x2="508.6" y2="1002.8"/>
<line x1="487.4" y1="924.3" x2="487.4" y2="1008.2"/>
<line x1="488.6" y1="935.2" x2="488.6" y2="1020.9"/>
<line x1="484.8" y1="927.5" x2="484.8" y2="996.8"/>
<line x1="480.9" y1="923.7" x2="480.9" y2="1011.9"/>
<line x1="489" y1="923.2" x2="489" y2="1012.9"/>
<line x1="487.6" y1="926.6" x2="487.6" y2="1022.1"/>
<line x1="492.4" y1="940.8" x2="492.4" y2="999.6"/>
<line x1="487.3" y1="923.1" x2="487.3" y2="1012.8"/>
<line x1="476.2" y1="906.9" x2="476.2" y2="986.9"/>
<line x1="478.3" y1="913" x2="478.3" y2="986.8"/>
<line x1="469.2" y1="909.3" x2="469.2" y2="985"/>
<line x1="482.4" y1="882.9" x2="482.4" y2="969.4"/>
<line x1="481.2" y1="892.7" x2="481.2" y2="961.4"/>
<line x1="486.2" y1="905.7" x2="486.2" y2="995.4"/>
<line x1="489.9" y1="899.6" x2="489.9" y2="995.3"/>
<line x1="498.7" y1="889.6" x2="498.7" y2="953"/>
<line x1="499.9" y1="884.8" x2="499.9" y2="990.5"/>
<line x1="494.9" y1="900.9" x2="494.9" y2="992.4"/>
<line x1="447.5" y1="912.6" x2="447.5" y2="1007.6"/>
<line x1="441.9" y1="911.6" x2="441.9" y2="1004.4"/>
<line x1="443.6" y1="919.3" x2="443.6" y2="1008.1"/>
<line x1="443.7" y1="924.6" x2="443.7" y2="1006.5"/>
<line x1="452.5" y1="907.8" x2="452.5" y2="1009"/>
<line x1="464.9" y1="902.2" x2="464.9" y2="992.6"/>
<line x1="445" y1="946.6" x2="445" y2="1019.5"/>
<line x1="446.2" y1="929.1" x2="446.2" y2="1036"/>
<line x1="446.7" y1="934.5" x2="446.7" y2="1005.1"/>
<line x1="439.8" y1="943.7" x2="439.8" y2="1029.2"/>
<line x1="441.4" y1="932.4" x2="441.4" y2="1014.5"/>
<line x1="450" y1="942.8" x2="450" y2="1015.8"/>
<line x1="444.3" y1="933.9" x2="444.3" y2="1012.1"/>
<line x1="425" y1="929.2" x2="425" y2="1016.7"/>
<line x1="430.2" y1="939.4" x2="430.2" y2="1015.2"/>
<line x1="423.6" y1="940.8" x2="423.6" y2="1006"/>
<line x1="403.7" y1="947.3" x2="403.7" y2="1033.1"/>
<line x1="396.9" y1="949.5" x2="396.9" y2="1036.3"/>
<line x1="404.6" y1="946.4" x2="404.6" y2="1052.4"/>
<line x1="405.8" y1="959.3" x2="405.8" y2="1055.7"/>
<line x1="407.5" y1="948.1" x2="407.5" y2="1048"/>
<line x1="394" y1="951.5" x2="394" y2="1036.5"/>
<line x1="379.9" y1="965.8" x2="379.9" y2="1038"/>
<line x1="518.6" y1="911.7" x2="518.6" y2="975.5"/>
<line x1="548.8" y1="899.4" x2="548.8" y2="966.9"/>
<line x1="537.4" y1="887" x2="537.4" y2="975.6"/>
<line x1="326.3" y1="971" x2="326.3" y2="1065.3"/>
<line x1="340.5" y1="980" x2="340.5" y2="1076.8"/>
<line x1="439" y1="931.5" x2="439" y2="998.3"/>
<line x1="412.6" y1="936.6" x2="412.6" y2="1025.4"/>
<line x1="497.4" y1="920.4" x2="497.4" y2="989.4"/>
<line x1="414.8" y1="942.5" x2="414.8" y2="1030.9"/>
<line x1="423.4" y1="932.8" x2="423.4" y2="1026"/>
<line x1="375.5" y1="970.2" x2="375.5" y2="1031.2"/>
<line x1="323" y1="983.9" x2="323" y2="1077.2"/>
<line x1="316.5" y1="973.6" x2="316.5" y2="1074.9"/>
<line x1="373.9" y1="955.1" x2="373.9" y2="1067.8"/>
<line x1="485.3" y1="924.4" x2="485.3" y2="1022.9"/>
<line x1="449.5" y1="925.5" x2="449.5" y2="1001.7"/>
<line x1="448.7" y1="925.3" x2="448.7" y2="998.1"/>
<line x1="537.4" y1="918.1" x2="537.4" y2="1006.5"/>
<line x1="313.5" y1="987.1" x2="313.5" y2="1066"/>
<line x1="387.3" y1="944.1" x2="387.3" y2="1038.5"/>
<line x1="481.1" y1="942" x2="481.1" y2="1025.7"/>
<line x1="463.4" y1="931.8" x2="463.4" y2="1027.3"/>
<line x1="379.9" y1="946.9" x2="379.9" y2="1032.9"/>
<line x1="367.3" y1="959.1" x2="367.3" y2="1033.8"/>
<line x1="366.5" y1="958.3" x2="366.5" y2="1050.7"/>
<line x1="393.4" y1="944.8" x2="393.4" y2="1043.1"/>
<line x1="344.4" y1="966.5" x2="344.4" y2="1062.5"/>
<line x1="444.1" y1="937" x2="444.1" y2="1007.9"/>
<line x1="447" y1="956.4" x2="447" y2="1020.9"/>
<line x1="383" y1="944.2" x2="383" y2="1043.5"/>
<line x1="479.2" y1="917.3" x2="479.2" y2="1002.3"/>
<line x1="327.5" y1="972.6" x2="327.5" y2="1057.1"/>
<line x1="439.4" y1="941.4" x2="439.4" y2="1020.9"/>
<line x1="367.4" y1="961.9" x2="367.4" y2="1046.3"/>
<line x1="459.3" y1="923.3" x2="459.3" y2="1032"/>
<line x1="550.3" y1="884.3" x2="550.3" y2="970.8"/>
<line x1="420.1" y1="937.7" x2="420.1" y2="1044.5"/>
<line x1="486.3" y1="943" x2="486.3" y2="1029.4"/>
<line x1="490.9" y1="928" x2="490.9" y2="1005.1"/>
<line x1="474.9" y1="926.3" x2="474.9" y2="1013.6"/>
<line x1="379.8" y1="948" x2="379.8" y2="1060.9"/>
<line x1="506.1" y1="894.3" x2="506.1" y2="978.4"/>
<line x1="464.6" y1="942" x2="464.6" y2="1002.3"/>
<line x1="394.9" y1="937.5" x2="394.9" y2="1033.6"/>
<line x1="498.5" y1="921.2" x2="498.5" y2="982.7"/>
<line x1="477.4" y1="924.4" x2="477.4" y2="996.2"/>
<line x1="393.5" y1="926.4" x2="393.5" y2="1011.2"/>
<line x1="380.4" y1="957" x2="380.4" y2="1058.8"/>
<line x1="444.8" y1="940.4" x2="444.8" y2="1012.7"/>
<line x1="403.8" y1="962.3" x2="403.8" y2="1037.8"/>
<line x1="496.8" y1="938.4" x2="496.8" y2="1012.8"/>
<line x1="484.8" y1="958.8" x2="484.8" y2="1046.7"/>
<line x1="332.5" y1="984.7" x2="332.5" y2="1054.4"/>
<line x1="433.1" y1="943.8" x2="433.1" y2="1028.7"/>
<line x1="380.4" y1="966.8" x2="380.4" y2="1047.8"/>
<line x1="392.5" y1="950.5" x2="392.5" y2="1053.6"/>
<line x1="344.3" y1="969.6" x2="344.3" y2="1098"/>
<line x1="443" y1="935" x2="443" y2="1098"/>
<line x1="276.1" y1="975.7" x2="276.1" y2="1077.6"/>
<line x1="290" y1="977.8" x2="290" y2="1083.7"/>
<line x1="336.9" y1="965.5" x2="336.9" y2="1085.8"/>
</g>
<g filter="url(#b)">
<use href="#q" x="276.1" y="1021.8"/>
<use href="#q" x="289.1" y="1028"/>
<use href="#q" x="302" y="1012.4"/>
<use href="#q" x="310.1" y="998"/>
<use href="#q" x="312" y="1001.2"/>
<use href="#q" x="314.5" y="1029.3"/>
<use href="#q" x="323.2" y="1006.1"/>
<use href="#q" x="323.8" y="1021.8"/>
<use href="#q" x="317.3" y="1018.6"/>
<use href="#q" x="319.1" y="1026.1"/>
<use href="#q" x="321.9" y="1024.9"/>
<use href="#q" x="331.9" y="1009.9"/>
<use href="#q" x="335.7" y="1002.4"/>
<use href="#q" x="335.7" y="1029.9"/>
<use href="#q" x="343.2" y="1026.1"/>
<use href="#q" x="346.9" y="1009.9"/>
<use href="#q" x="351.9" y="1012.4"/>
<use href="#q" x="346.9" y="993.7"/>
<use href="#q" x="360.7" y="1008.6"/>
<use href="#q" x="364.4" y="1012.4"/>
<use href="#q" x="361.9" y="997.4"/>
<use href="#q" x="370.6" y="982.4"/>
<use href="#q" x="373.2" y="986.4"/>
<use href="#q" x="366" y="985.3"/>
<use href="#q" x="368.1" y="987.4"/>
<use href="#q" x="376.9" y="1002.4"/>
<use href="#q" x="374.4" y="993.7"/>
<use href="#q" x="386.9" y="989.9"/>
<use href="#q" x="381.5" y="990.2"/>
<use href="#q" x="388.8" y="988.5"/>
<use href="#q" x="381.9" y="974.9"/>
<use href="#q" x="393.1" y="1007.4"/>
<use href="#q" x="389.4" y="994.9"/>
<use href="#q" x="394.4" y="981.2"/>
<use href="#q" x="398.1" y="933.1"/>
<use href="#q" x="403.1" y="987.4"/>
<use href="#q" x="405.6" y="992.4"/>
<use href="#q" x="405.6" y="959.9"/>
<use href="#q" x="396.9" y="972.4"/>
<use href="#q" x="414.4" y="974.9"/>
<use href="#q" x="415.6" y="982.4"/>
<use href="#q" x="420.6" y="992.4"/>
<use href="#q" x="425.6" y="972.4"/>
<use href="#q" x="430.8" y="973"/>
<use href="#q" x="426.7" y="976.3"/>
<use href="#q" x="421.8" y="947.5"/>
<use href="#q" x="431.8" y="940"/>
<use href="#q" x="430.6" y="962.4"/>
<use href="#q" x="441.8" y="952.5"/>
<use href="#q" x="443.1" y="937.5"/>
<use href="#q" x="445.6" y="972.4"/>
<use href="#q" x="440" y="977.4"/>
<use href="#q" x="447.4" y="971.4"/>
<use href="#q" x="441.8" y="979.9"/>
<use href="#q" x="449.3" y="966.2"/>
<use href="#q" x="451.8" y="938.7"/>
<use href="#q" x="455.6" y="920"/>
<use href="#q" x="461.8" y="947.5"/>
<use href="#q" x="468.1" y="961.2"/>
<use href="#q" x="464.3" y="941.2"/>
<use href="#q" x="476.8" y="941.2"/>
<use href="#q" x="474.3" y="935"/>
<use href="#q" x="513" y="875.6"/>
<use href="#q" x="516.1" y="884.3"/>
<use href="#q" x="511.1" y="894.9"/>
<use href="#q" x="530.5" y="885"/>
<use href="#q" x="531.1" y="903.7"/>
<use href="#q" x="535.3" y="901.3"/>
<use href="#q" x="529.9" y="894.9"/>
<use href="#q" x="558.6" y="898.1"/>
<use href="#q" x="570.8" y="898.4"/>
<use href="#q" x="551.7" y="909.9"/>
<use href="#q" x="553.6" y="916.2"/>
<use href="#q" x="556.7" y="930.5"/>
<use href="#q" x="563.6" y="931.3"/>
<use href="#q" x="554.8" y="933.2"/>
<use href="#q" x="568" y="926.8"/>
<use href="#q" x="524.9" y="919.9"/>
<use href="#q" x="524.1" y="916.7"/>
<use href="#q" x="528.3" y="915.4"/>
<use href="#q" x="531.1" y="919.9"/>
<use href="#q" x="518.6" y="926.2"/>
<use href="#q" x="529.9" y="931.2"/>
<use href="#q" x="536.1" y="927.4"/>
<use href="#q" x="541.1" y="939.9"/>
<use href="#q" x="537.4" y="946.1"/>
<use href="#q" x="534.9" y="937.4"/>
<use href="#q" x="519.9" y="937.4"/>
<use href="#q" x="512.4" y="938.7"/>
<use href="#q" x="498.7" y="939.9"/>
<use href="#q" x="506.1" y="943.7"/>
<use href="#q" x="510.6" y="941.2"/>
<use href="#q" x="508.1" y="948.5"/>
<use href="#q" x="508.6" y="948.6"/>
<use href="#q" x="487.4" y="954.9"/>
<use href="#q" x="488.6" y="956.5"/>
<use href="#q" x="484.8" y="949.9"/>
<use href="#q" x="480.9" y="951.4"/>
<use href="#q" x="489" y="954.2"/>
<use href="#q" x="487.6" y="958.8"/>
<use href="#q" x="492.4" y="957.4"/>
<use href="#q" x="487.3" y="954.7"/>
<use href="#q" x="476.2" y="941.2"/>
<use href="#q" x="478.3" y="936.4"/>
<use href="#q" x="469.2" y="939.7"/>
<use href="#q" x="482.4" y="907.4"/>
<use href="#q" x="481.2" y="914.9"/>
<use href="#q" x="486.2" y="924.9"/>
<use href="#q" x="489.9" y="929.9"/>
<use href="#q" x="498.7" y="911.2"/>
<use href="#q" x="499.9" y="917.4"/>
<use href="#q" x="494.9" y="919.9"/>
<use href="#q" x="447.5" y="954.9"/>
<use href="#q" x="441.9" y="953.5"/>
<use href="#q" x="443.6" y="955.7"/>
<use href="#q" x="443.7" y="959.9"/>
<use href="#q" x="452.5" y="949.9"/>
<use href="#q" x="464.9" y="948.6"/>
<use href="#q" x="445" y="972.4"/>
<use href="#q" x="446.2" y="969.4"/>
<use href="#q" x="446.7" y="972.1"/>
<use href="#q" x="439.8" y="976.7"/>
<use href="#q" x="441.4" y="968.9"/>
<use href="#q" x="450" y="968.6"/>
<use href="#q" x="444.3" y="970"/>
<use href="#q" x="425" y="972.4"/>
<use href="#q" x="430.2" y="975.2"/>
<use href="#q" x="423.6" y="970"/>
<use href="#q" x="403.7" y="989.9"/>
<use href="#q" x="396.9" y="991.3"/>
<use href="#q" x="404.6" y="988.4"/>
<use href="#q" x="405.8" y="989.3"/>
<use href="#q" x="407.5" y="983.6"/>
<use href="#q" x="394" y="987.8"/>
<use href="#q" x="379.9" y="994.5"/>
<use href="#q" x="518.6" y="928.5"/>
<use href="#q" x="548.8" y="926.8"/>
<use href="#q" x="537.4" y="907"/>
<use href="#q" x="326.3" y="1012.4"/>
<use href="#q" x="340.5" y="1012.2"/>
<use href="#q" x="439" y="962.2"/>
<use href="#q" x="412.6" y="971.1"/>
<use href="#q" x="497.4" y="947.9"/>
<use href="#q" x="414.8" y="985.9"/>
<use href="#q" x="423.4" y="979.6"/>
<use href="#q" x="375.5" y="997.4"/>
<use href="#q" x="323" y="1020.1"/>
<use href="#q" x="316.5" y="1013"/>
<use href="#q" x="373.9" y="1005.3"/>
<use href="#q" x="485.3" y="952.4"/>
<use href="#q" x="449.5" y="965.8"/>
<use href="#q" x="448.7" y="956.9"/>
<use href="#q" x="537.4" y="936"/>
<use href="#q" x="313.5" y="1027"/>
<use href="#q" x="387.3" y="993.1"/>
<use href="#q" x="481.1" y="962.6"/>
<use href="#q" x="463.4" y="960.1"/>
<use href="#q" x="379.9" y="998.3"/>
<use href="#q" x="367.3" y="1000.2"/>
<use href="#q" x="366.5" y="1009.1"/>
<use href="#q" x="393.4" y="984.9"/>
<use href="#q" x="344.4" y="1013.2"/>
<use href="#q" x="444.1" y="963.7"/>
<use href="#q" x="447" y="981"/>
<use href="#q" x="383" y="990.5"/>
<use href="#q" x="479.2" y="941.7"/>
<use href="#q" x="327.5" y="1011.6"/>
<use href="#q" x="439.4" y="974.6"/>
<use href="#q" x="367.4" y="998.4"/>
<use href="#q" x="459.3" y="965.9"/>
<use href="#q" x="550.3" y="916.9"/>
<use href="#q" x="420.1" y="982.6"/>
<use href="#q" x="486.3" y="962.2"/>
<use href="#q" x="490.9" y="945.7"/>
<use href="#q" x="474.9" y="949.5"/>
<use href="#q" x="379.8" y="995.1"/>
<use href="#q" x="506.1" y="927.6"/>
<use href="#q" x="464.6" y="966.9"/>
<use href="#q" x="394.9" y="989.8"/>
<use href="#q" x="498.5" y="941.7"/>
<use href="#q" x="477.4" y="947.4"/>
<use href="#q" x="393.5" y="972.3"/>
<use href="#q" x="380.4" y="995.4"/>
<use href="#q" x="444.8" y="974.6"/>
<use href="#q" x="403.8" y="996.1"/>
<use href="#q" x="496.8" y="955.2"/>
<use href="#q" x="484.8" y="980.5"/>
<use href="#q" x="332.5" y="1018.1"/>
<use href="#q" x="433.1" y="978.4"/>
<use href="#q" x="380.4" y="997.4"/>
<use href="#q" x="392.5" y="993.7"/>
</g></g>
<g fill="#d3d3d3" stroke="#000" stroke-width="2.4" stroke-linejoin="miter">
<rect x="862" y="1151.7" width="44.9" height="7.4"/>
<rect x="906.9" y="1151.7" width="44.9" height="7.4"/>
<rect x="951.8" y="1114.7" width="44.9" height="44.4"/>
<rect x="996.7" y="1070.3" width="44.9" height="88.8"/>
<rect x="1041.6" y="877.9" width="44.9" height="281.2"/>
<rect x="1086.5" y="752.1" width="44.9" height="407"/>
<rect x="1131.4" y="877.9" width="44.9" height="281.2"/>
<rect x="1176.3" y="959.3" width="44.9" height="199.8"/>
<rect x="1221.2" y="1077.7" width="44.9" height="81.4"/>
<rect x="1266.1" y="1144.3" width="44.9" height="14.8"/>
<rect x="1311" y="1151.7" width="44.9" height="7.4"/>
<rect x="1581.4" y="1109.2" width="45" height="49.9"/>
<rect x="1626.4" y="992.9" width="45" height="166.2"/>
<rect x="1671.3" y="751.9" width="45" height="407.2"/>
<rect x="1716.3" y="785.1" width="45" height="374"/>
<rect x="1761.2" y="868.2" width="45" height="290.9"/>
<rect x="1806.2" y="1026.1" width="45" height="133"/>
<rect x="1851.2" y="1034.4" width="45" height="124.7"/>
<rect x="1896.1" y="1134.2" width="45" height="24.9"/>
<rect x="1941.1" y="1150.8" width="45" height="8.3"/>
<rect x="1986" y="1150.8" width="45" height="8.3"/>
<rect x="2031" y="1150.8" width="45" height="8.3"/>
</g>
<g stroke="#000" stroke-width="2.4" fill="none" stroke-linecap="butt">
<rect x="123.7" y="20" width="533.2" height="439.7" fill="none"/>
<rect x="842.9" y="20" width="533.4" height="439.7" fill="none"/>
<rect x="1562.1" y="20" width="533.5" height="439.7" fill="none"/>
<rect x="123.7" y="735.6" width="533.2" height="439.6" fill="none"/>
</g>
<g stroke="#000" stroke-width="2.4" stroke-linecap="butt">
<line x1="143" y1="459.7" x2="143" y2="475.7"/>
<line x1="266.4" y1="459.7" x2="266.4" y2="475.7"/>
<line x1="389.8" y1="459.7" x2="389.8" y2="475.7"/>
<line x1="513.2" y1="459.7" x2="513.2" y2="475.7"/>
<line x1="636.6" y1="459.7" x2="636.6" y2="475.7"/>
<line x1="107.7" y1="443.5" x2="123.7" y2="443.5"/>
<line x1="107.7" y1="375.6" x2="123.7" y2="375.6"/>
<line x1="107.7" y1="307.7" x2="123.7" y2="307.7"/>
<line x1="107.7" y1="239.8" x2="123.7" y2="239.8"/>
<line x1="107.7" y1="172" x2="123.7" y2="172"/>
<line x1="107.7" y1="104.1" x2="123.7" y2="104.1"/>
<line x1="107.7" y1="36.2" x2="123.7" y2="36.2"/>
<line x1="867.5" y1="459.7" x2="867.5" y2="475.7"/>
<line x1="937.5" y1="459.7" x2="937.5" y2="475.7"/>
<line x1="1007.6" y1="459.7" x2="1007.6" y2="475.7"/>
<line x1="1077.6" y1="459.7" x2="1077.6" y2="475.7"/>
<line x1="1147.7" y1="459.7" x2="1147.7" y2="475.7"/>
<line x1="1217.8" y1="459.7" x2="1217.8" y2="475.7"/>
<line x1="1287.8" y1="459.7" x2="1287.8" y2="475.7"/>
<line x1="1357.9" y1="459.7" x2="1357.9" y2="475.7"/>
<line x1="826.9" y1="444.7" x2="842.9" y2="444.7"/>
<line x1="826.9" y1="373.9" x2="842.9" y2="373.9"/>
<line x1="826.9" y1="303.2" x2="842.9" y2="303.2"/>
<line x1="826.9" y1="232.4" x2="842.9" y2="232.4"/>
<line x1="826.9" y1="161.6" x2="842.9" y2="161.6"/>
<line x1="826.9" y1="90.9" x2="842.9" y2="90.9"/>
<line x1="826.9" y1="20.1" x2="842.9" y2="20.1"/>
<line x1="1581.5" y1="459.7" x2="1581.5" y2="475.7"/>
<line x1="1667" y1="459.7" x2="1667" y2="475.7"/>
<line x1="1752.5" y1="459.7" x2="1752.5" y2="475.7"/>
<line x1="1837.9" y1="459.7" x2="1837.9" y2="475.7"/>
<line x1="1923.4" y1="459.7" x2="1923.4" y2="475.7"/>
<line x1="2008.9" y1="459.7" x2="2008.9" y2="475.7"/>
<line x1="2094.4" y1="459.7" x2="2094.4" y2="475.7"/>
<line x1="1546.1" y1="444.7" x2="1562.1" y2="444.7"/>
<line x1="1546.1" y1="373.9" x2="1562.1" y2="373.9"/>
<line x1="1546.1" y1="303.2" x2="1562.1" y2="303.2"/>
<line x1="1546.1" y1="232.4" x2="1562.1" y2="232.4"/>
<line x1="1546.1" y1="161.6" x2="1562.1" y2="161.6"/>
<line x1="1546.1" y1="90.9" x2="1562.1" y2="90.9"/>
<line x1="1546.1" y1="20.1" x2="1562.1" y2="20.1"/>
<line x1="192.2" y1="1175.2" x2="192.2" y2="1191.2"/>
<line x1="290.9" y1="1175.2" x2="290.9" y2="1191.2"/>
<line x1="389.7" y1="1175.2" x2="389.7" y2="1191.2"/>
<line x1="488.4" y1="1175.2" x2="488.4" y2="1191.2"/>
<line x1="587.2" y1="1175.2" x2="587.2" y2="1191.2"/>
<line x1="107.7" y1="1159.1" x2="123.7" y2="1159.1"/>
<line x1="107.7" y1="1057.2" x2="123.7" y2="1057.2"/>
<line x1="107.7" y1="955.3" x2="123.7" y2="955.3"/>
<line x1="107.7" y1="853.5" x2="123.7" y2="853.5"/>
<line x1="107.7" y1="751.6" x2="123.7" y2="751.6"/>
<line x1="826.5" y1="1159.1" x2="842.5" y2="1159.1"/>
<line x1="826.5" y1="1085.1" x2="842.5" y2="1085.1"/>
<line x1="826.5" y1="1011.1" x2="842.5" y2="1011.1"/>
<line x1="826.5" y1="937.1" x2="842.5" y2="937.1"/>
<line x1="826.5" y1="863.1" x2="842.5" y2="863.1"/>
<line x1="826.5" y1="789.1" x2="842.5" y2="789.1"/>
<line x1="842.5" y1="1160.3" x2="842.5" y2="787.9"/>
<line x1="862" y1="1175.2" x2="862" y2="1191.2"/>
<line x1="996.7" y1="1175.2" x2="996.7" y2="1191.2"/>
<line x1="1153.6" y1="1175.2" x2="1153.6" y2="1191.2"/>
<line x1="1311" y1="1175.2" x2="1311" y2="1191.2"/>
<line x1="860.8" y1="1175.2" x2="1376.3" y2="1175.2"/>
<line x1="1545.7" y1="1159.1" x2="1561.7" y2="1159.1"/>
<line x1="1545.7" y1="1076" x2="1561.7" y2="1076"/>
<line x1="1545.7" y1="992.9" x2="1561.7" y2="992.9"/>
<line x1="1545.7" y1="909.8" x2="1561.7" y2="909.8"/>
<line x1="1545.7" y1="826.7" x2="1561.7" y2="826.7"/>
<line x1="1545.7" y1="743.6" x2="1561.7" y2="743.6"/>
<line x1="1561.7" y1="1160.3" x2="1561.7" y2="742.4"/>
<line x1="1603.8" y1="1175.2" x2="1603.8" y2="1191.2"/>
<line x1="1716.2" y1="1175.2" x2="1716.2" y2="1191.2"/>
<line x1="1828.7" y1="1175.2" x2="1828.7" y2="1191.2"/>
<line x1="1941" y1="1175.2" x2="1941" y2="1191.2"/>
<line x1="2053.4" y1="1175.2" x2="2053.4" y2="1191.2"/>
<line x1="1602.6" y1="1175.2" x2="2054.6" y2="1175.2"/>
</g>
<g>
<text x="142.6" y="514.4" text-anchor="middle">0</text>
<text x="266" y="514.4" text-anchor="middle">50</text>
<text x="389.4" y="514.4" text-anchor="middle">100</text>
<text x="512.8" y="514.4" text-anchor="middle">150</text>
<text x="636.2" y="514.4" text-anchor="middle">200</text>
<text transform="translate(87.2 444.3) rotate(-90)" text-anchor="middle">0</text>
<text transform="translate(87.2 376.4) rotate(-90)" text-anchor="middle">50</text>
<text transform="translate(87.2 308.5) rotate(-90)" text-anchor="middle">100</text>
<text transform="translate(87.2 240.6) rotate(-90)" text-anchor="middle">150</text>
<text transform="translate(87.2 172.8) rotate(-90)" text-anchor="middle">200</text>
<text transform="translate(87.2 104.9) rotate(-90)" text-anchor="middle">250</text>
<text transform="translate(87.2 37) rotate(-90)" text-anchor="middle">300</text>
<text x="867.1" y="514.4" text-anchor="middle">−0.8</text>
<text x="1007.2" y="514.4" text-anchor="middle">−0.4</text>
<text x="1147.3" y="514.4" text-anchor="middle">0.0</text>
<text x="1217.4" y="514.4" text-anchor="middle">0.2</text>
<text x="1287.4" y="514.4" text-anchor="middle">0.4</text>
<text x="1357.5" y="514.4" text-anchor="middle">0.6</text>
<text transform="translate(807 445.5) rotate(-90)" text-anchor="middle">0</text>
<text transform="translate(807 374.7) rotate(-90)" text-anchor="middle">50</text>
<text transform="translate(807 304) rotate(-90)" text-anchor="middle">100</text>
<text transform="translate(807 233.2) rotate(-90)" text-anchor="middle">150</text>
<text transform="translate(807 162.4) rotate(-90)" text-anchor="middle">200</text>
<text transform="translate(807 91.7) rotate(-90)" text-anchor="middle">250</text>
<text transform="translate(807 20.9) rotate(-90)" text-anchor="middle">300</text>
<text x="1581.1" y="514.4" text-anchor="middle">0</text>
<text x="1666.6" y="514.4" text-anchor="middle">50</text>
<text x="1752.1" y="514.4" text-anchor="middle">100</text>
<text x="1837.5" y="514.4" text-anchor="middle">150</text>
<text x="1923" y="514.4" text-anchor="middle">200</text>
<text x="2008.5" y="514.4" text-anchor="middle">250</text>
<text x="2094" y="514.4" text-anchor="middle">300</text>
<text transform="translate(1526.9 445.5) rotate(-90)" text-anchor="middle">0</text>
<text transform="translate(1526.9 374.7) rotate(-90)" text-anchor="middle">50</text>
<text transform="translate(1526.9 304) rotate(-90)" text-anchor="middle">100</text>
<text transform="translate(1526.9 233.2) rotate(-90)" text-anchor="middle">150</text>
<text transform="translate(1526.9 162.4) rotate(-90)" text-anchor="middle">200</text>
<text transform="translate(1526.9 91.7) rotate(-90)" text-anchor="middle">250</text>
<text transform="translate(1526.9 20.9) rotate(-90)" text-anchor="middle">300</text>
<text x="191.8" y="1230.6" text-anchor="middle">6</text>
<text x="290.5" y="1230.6" text-anchor="middle">8</text>
<text x="389.3" y="1230.6" text-anchor="middle">10</text>
<text x="488" y="1230.6" text-anchor="middle">12</text>
<text x="586.8" y="1230.6" text-anchor="middle">14</text>
<text transform="translate(87.2 1159.9) rotate(-90)" text-anchor="middle">0</text>
<text transform="translate(87.2 1058) rotate(-90)" text-anchor="middle">5</text>
<text transform="translate(87.2 956.1) rotate(-90)" text-anchor="middle">10</text>
<text transform="translate(87.2 854.3) rotate(-90)" text-anchor="middle">15</text>
<text transform="translate(87.2 752.4) rotate(-90)" text-anchor="middle">20</text>
<text x="861.6" y="1230.6" text-anchor="middle">0.000025</text>
<text x="996.3" y="1230.6" text-anchor="middle">0.0001</text>
<text x="1153.2" y="1230.6" text-anchor="middle">0.0005</text>
<text x="1310.6" y="1230.6" text-anchor="middle">0.0025</text>
<text transform="translate(807 1159.9) rotate(-90)" text-anchor="middle">0</text>
<text transform="translate(807 1085.9) rotate(-90)" text-anchor="middle">10</text>
<text transform="translate(807 1011.9) rotate(-90)" text-anchor="middle">20</text>
<text transform="translate(807 937.9) rotate(-90)" text-anchor="middle">30</text>
<text transform="translate(807 863.9) rotate(-90)" text-anchor="middle">40</text>
<text transform="translate(807 789.9) rotate(-90)" text-anchor="middle">50</text>
<text x="1603.4" y="1230.6" text-anchor="middle">−0.5</text>
<text x="1715.8" y="1230.6" text-anchor="middle">0.0</text>
<text x="1828.2" y="1230.6" text-anchor="middle">0.5</text>
<text x="1940.6" y="1230.6" text-anchor="middle">1.0</text>
<text x="2053" y="1230.6" text-anchor="middle">1.5</text>
<text transform="translate(1526.7 1159.9) rotate(-90)" text-anchor="middle">0</text>
<text transform="translate(1526.7 1076.8) rotate(-90)" text-anchor="middle">10</text>
<text transform="translate(1526.7 993.7) rotate(-90)" text-anchor="middle">20</text>
<text transform="translate(1526.7 910.6) rotate(-90)" text-anchor="middle">30</text>
<text transform="translate(1526.7 827.5) rotate(-90)" text-anchor="middle">40</text>
<text transform="translate(1526.7 744.4) rotate(-90)" text-anchor="middle">50</text>
<text x="389.7" y="569.5" text-anchor="middle"><tspan style="font-kerning:normal">True</tspan> times of origin – T</text>
<text x="1109.4" y="574.2" text-anchor="middle">Rel. Error <tspan dx="1">–</tspan><tspan dx="1"> </tspan>Time of origin</text>
<text x="1828.5" y="574.2" text-anchor="middle">Size of 95% CI (Myr)</text>
<text x="389.5" y="1283.7" text-anchor="middle"><tspan style="font-kerning:normal">True</tspan> variances – log(<tspan font-family='"Liberation Serif", "DejaVu Serif", serif' font-size="29.5">σ</tspan><tspan dy="-12.4" font-size="17.6">2</tspan><tspan dy="12.4">)</tspan></text>
<text x="1109.6" y="1283.3" text-anchor="middle">Estimated sampling rates <tspan dx="1">–</tspan><tspan dx="1"> </tspan>q</text>
<text x="1828.3" y="1290" text-anchor="middle">Estimate sampling trend <tspan dx="1">–</tspan><tspan dx="1"> </tspan>log10(a)</text>
<text transform="translate(21.6 239.7) rotate(-90)" text-anchor="middle">Estimated times of origin – T</text>
<text transform="translate(747.3 241.7) rotate(-90)" text-anchor="middle">N. fossil occurrences</text>
<text transform="translate(1466.8 241.7) rotate(-90)" text-anchor="middle">N. fossil occurrences</text>
<text transform="translate(21.6 956.2) rotate(-90)" text-anchor="middle">Estimated variances – log(<tspan font-family='"Liberation Serif", "DejaVu Serif", serif' font-size="29.5">σ</tspan><tspan dy="-12.4" font-size="17.6">2</tspan><tspan dy="12.4">)</tspan></text>
<text transform="translate(746.4 955.2) rotate(-90)" text-anchor="middle">Frequency</text>
<text transform="translate(1466.2 955.2) rotate(-90)" text-anchor="middle">Frequency</text>
</g>
</svg>
</body></html>
